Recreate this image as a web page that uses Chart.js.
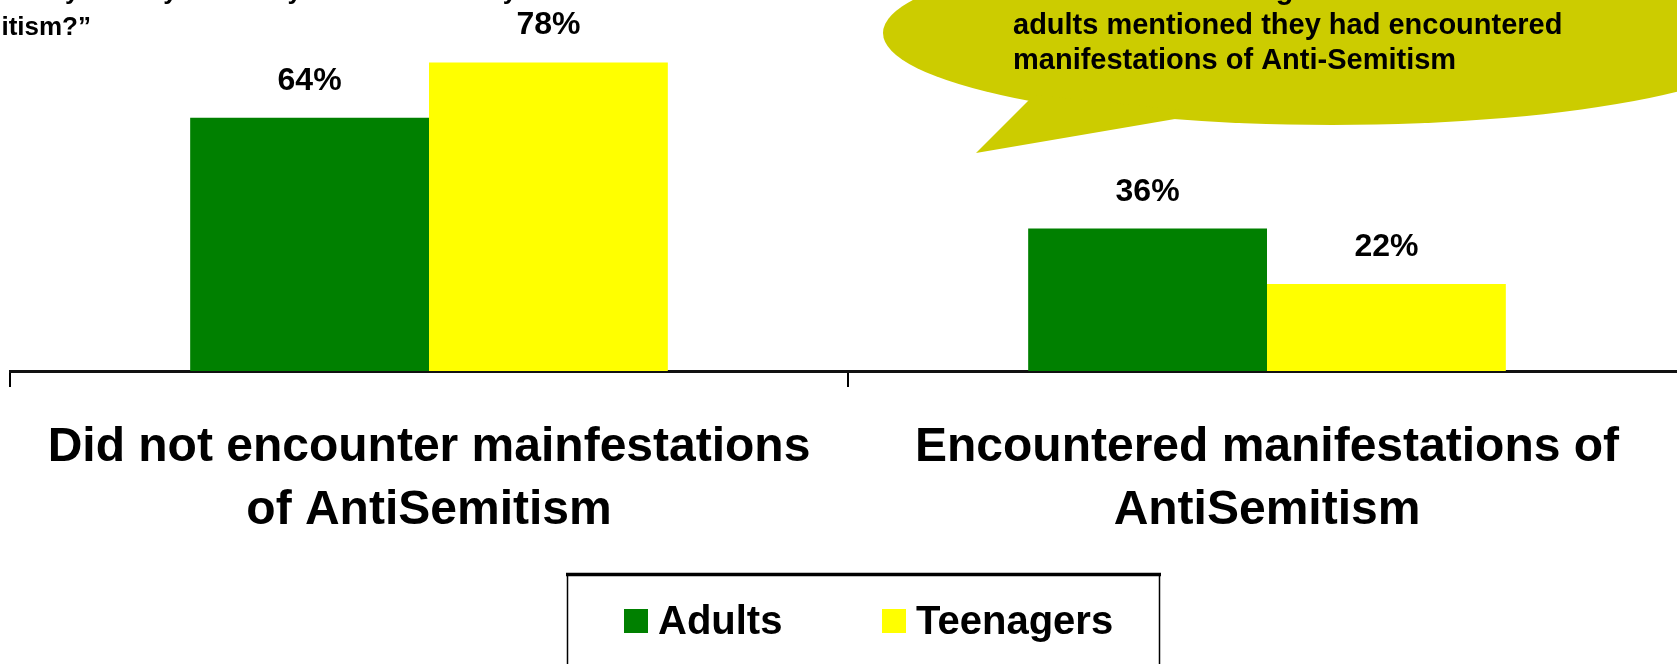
<!DOCTYPE html>
<html>
<head>
<meta charset="utf-8">
<script src="https://cdn.jsdelivr.net/npm/chart.js@4/dist/chart.umd.min.js"></script>
<style>
html, body { margin: 0; padding: 0; background: #fff; overflow: hidden; }
#wrap { position: relative; width: 1700px; height: 664px; }
</style>
</head>
<body>
<div id="wrap"><canvas id="antiChart"></canvas></div>
<script>
var categories = [
    ["Did not encounter mainfestations", "of AntiSemitism"],
    ["Encountered manifestations of", "AntiSemitism"]
];
var seriesNames = ["Adults", "Teenagers"];
var adults = [64, 36];
var teenagers = [78, 22];
var seriesColors = ["#008000", "#ffff00"];

var questionLines = [
    "\u201cIn the past year, have you or anyone in your family encountered any",
    "manifestations of Anti-Semitism?\u201d"
];
var calloutLines = [
    "While 22% of teenagers and 36% of the",
    "adults mentioned they had encountered",
    "manifestations of Anti-Semitism"
];

var FONT = "'Liberation Sans', Arial, sans-serif";

// question text and speech bubble (both cropped by the page edge)
var annotations = {
    id: 'annotations',
    beforeDatasetsDraw: function(chart) {
        var ctx = chart.ctx;
        ctx.save();
        ctx.fillStyle = '#000';
        ctx.font = 'bold 26px ' + FONT;
        ctx.textBaseline = 'alphabetic';
        ctx.textAlign = 'left';
        var x0 = 91 - ctx.measureText(questionLines[1]).width;
        ctx.fillText(questionLines[0], x0, -1);
        ctx.fillText(questionLines[1], x0, 35);

        ctx.fillStyle = '#cccc00';
        ctx.beginPath();
        ctx.ellipse(1332, 33, 449, 92, 0, 0, Math.PI * 2);
        ctx.fill();
        ctx.beginPath();
        ctx.moveTo(1035, 95);
        ctx.lineTo(1029, 100);
        ctx.lineTo(976, 153);
        ctx.lineTo(1175, 119);
        ctx.lineTo(1180, 110);
        ctx.closePath();
        ctx.fill();

        ctx.fillStyle = '#000';
        ctx.font = 'bold 29px ' + FONT;
        calloutLines.forEach(function(t, i) {
            ctx.fillText(t, 1013, -1 + i * 35);
        });
        ctx.restore();
    }
};

var valueLabels = {
    id: 'valueLabels',
    afterDatasetsDraw: function(chart) {
        var ctx = chart.ctx;
        ctx.save();
        ctx.fillStyle = '#000';
        ctx.font = 'bold 32px ' + FONT;
        ctx.textAlign = 'center';
        ctx.textBaseline = 'alphabetic';
        chart.data.datasets.forEach(function(ds, i) {
            chart.getDatasetMeta(i).data.forEach(function(bar, j) {
                ctx.fillText(ds.data[j] + '%', bar.x, bar.y - 28);
            });
        });
        ctx.restore();
    }
};

var legendBox = {
    id: 'legendBox',
    afterDraw: function(chart) {
        var ctx = chart.ctx;
        ctx.save();
        // frame, open at the bottom of the page
        ctx.strokeStyle = '#000';
        ctx.lineWidth = 1.5;
        ctx.beginPath();
        ctx.moveTo(567.5, 700);
        ctx.lineTo(567.5, 574);
        ctx.moveTo(1159.5, 574);
        ctx.lineTo(1159.5, 700);
        ctx.stroke();
        ctx.lineWidth = 3.5;
        ctx.beginPath();
        ctx.moveTo(566, 574.5);
        ctx.lineTo(1161, 574.5);
        ctx.stroke();

        ctx.font = 'bold 40px ' + FONT;
        ctx.textBaseline = 'alphabetic';
        ctx.textAlign = 'left';
        var box = 24, gapText = 10;
        var itemX = [624, 882];
        chart.data.datasets.forEach(function(ds, i) {
            ctx.fillStyle = ds.backgroundColor;
            ctx.fillRect(itemX[i], 609, box, box);
            ctx.fillStyle = '#000';
            ctx.fillText(ds.label, itemX[i] + box + gapText, 634);
        });
        ctx.restore();
    }
};

var bar = document.getElementById("antiChart").getContext('2d');
var myChart = new Chart(bar, {
    type: 'bar',
    data: {
        labels: categories,
        datasets: [
            {
                label: seriesNames[0],
                data: adults,
                backgroundColor: seriesColors[0]
            },
            {
                label: seriesNames[1],
                data: teenagers,
                backgroundColor: seriesColors[1]
            }
        ]
    },
    options: {
        responsive: true,
        maintainAspectRatio: false,
        animation: false,
        events: [],
        categoryPercentage: 0.57,
        barPercentage: 1.0,
        layout: {
            padding: { left: 10, right: 14, top: 0, bottom: 93 }
        },
        plugins: {
            legend: { display: false },
            tooltip: { enabled: false },
            title: { display: false }
        },
        scales: {
            x: {
                offset: true,
                grid: {
                    display: true,
                    offset: true,
                    drawOnChartArea: false,
                    drawTicks: true,
                    tickLength: 16,
                    color: '#000',
                    lineWidth: 2
                },
                border: { display: true, color: '#111', width: 3 },
                ticks: {
                    color: '#000',
                    autoSkip: false,
                    maxRotation: 0,
                    padding: 29,
                    font: { family: FONT, size: 48, weight: 'bold', lineHeight: 1.3125 }
                }
            },
            y: {
                display: false,
                min: 0,
                max: 93.8
            }
        }
    },
    plugins: [annotations, valueLabels, legendBox]
});
</script>
</body>
</html>
